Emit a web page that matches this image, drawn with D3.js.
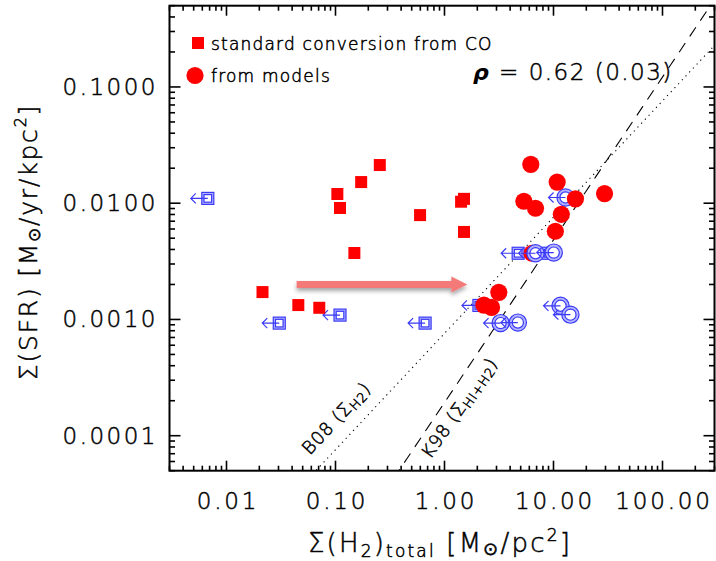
<!DOCTYPE html>
<html>
<head>
<meta charset="utf-8">
<script src="https://cdn.jsdelivr.net/npm/d3@7"></script>
<style>
  body { margin: 0; background: #fff; }
  svg text { font-family: "DejaVu Sans", sans-serif; fill: #000; }
  .lt { font-weight: 200; stroke: #000; stroke-width: 0.5px; }
</style>
</head>
<body>
<div id="chart"></div>
<script>
// ---- data ----
// red squares: standard conversion from CO
const coX = [0.255, 0.172, 0.104, 0.110, 0.597, 0.149, 0.0214, 0.0456, 0.071, 1.51, 1.42, 1.51];
const coY = [0.0213, 0.0152, 0.0120, 0.0091, 0.0079, 0.00373, 0.00172, 0.00133, 0.00126, 0.0109, 0.0103, 0.00566];

// red circles: from models
const modX = [6.19, 10.8, 5.35, 6.84, 15.9, 29.4, 11.8, 10.4, 6.36, 3.15, 2.30, 2.70];
const modY = [0.0216, 0.0152, 0.0104, 0.00905, 0.0109, 0.0121, 0.00803, 0.00574, 0.00371, 0.00171, 0.00133, 0.00127];

// blue open squares, upper limits (CO)
const limCoX = [0.00674, 0.0305, 0.110, 0.664, 4.74, 8.92, 2.07];
const limCoY = [0.0110, 0.00093, 0.00109, 0.00093, 0.00371, 0.00371, 0.00132];

// blue open circles, upper limits (models)
const limModX = [12.9, 6.84, 10.05, 3.27, 4.71, 11.6, 14.3];
const limModY = [0.0112, 0.00371, 0.00376, 0.00093, 0.00094, 0.00131, 0.0011];

// reference relations: log SFR = a + b log(gas)
const b08 = { a: -2.12 - 1.0, b: 1.0 };   // Bigiel 08, normalised at 10 Msun/pc2
const k98 = { a: -3.715, b: 1.4 };        // Kennicutt 98

const xTickLabels = ["0.01", "0.10", "1.00", "10.00", "100.00"];
const yTickLabels = ["0.1000", "0.0100", "0.0010", "0.0001"];
const xMajor = [0.01, 0.1, 1, 10, 100];
const yMajor = [0.1, 0.01, 0.001, 0.0001];

const shiftFrom = [0.044, 0.0020];
const shiftTo = [1.62, 0.0020];

// ---- layout ----
const W = 716, H = 561;
const pL = 169.5, pR = 714.5, pT = 5.7, pB = 470.7;

const svg = d3.select("#chart").append("svg")
    .attr("width", W)
    .attr("height", H);

const defs = svg.append("defs");
const sh = defs.append("filter").attr("id", "shadow")
    .attr("x", "-10%").attr("y", "-100%").attr("width", "120%").attr("height", "300%");
sh.append("feDropShadow").attr("dx", 0).attr("dy", 3).attr("stdDeviation", 2.2)
    .attr("flood-color", "#000").attr("flood-opacity", 0.35);

const x = d3.scaleLog().domain([0.003, 300]).range([pL, pR]);
const y = d3.scaleLog().domain([5e-5, 0.5]).range([pB, pT]);

const clip = defs.append("clipPath").attr("id", "plotclip");
clip.append("rect").attr("x", pL).attr("y", pT)
    .attr("width", pR - pL).attr("height", pB - pT);

// ---- relation lines ----
function relLine(rel) {
    const xs = d3.range(0, 61).map(i => Math.pow(10, -2.6 + i * 5.2 / 60));
    return d3.line()
        .x(d => x(d))
        .y(d => y(Math.pow(10, rel.a + rel.b * Math.log10(d))))(xs);
}
const lines = svg.append("g").attr("clip-path", "url(#plotclip)");
lines.append("path").attr("d", relLine(b08))
    .attr("fill", "none").attr("stroke", "#000").attr("stroke-width", 1.1)
    .attr("stroke-dasharray", "1.2,4.2");
lines.append("path").attr("d", relLine(k98))
    .attr("fill", "none").attr("stroke", "#000").attr("stroke-width", 1.1)
    .attr("stroke-dasharray", "11,8");

// ---- pink shift arrow ----
const ar = svg.append("g").attr("filter", "url(#shadow)");
const ax0 = x(shiftFrom[0]), ax1 = x(shiftTo[0]), ay = y(shiftFrom[1]);
ar.append("path")
    .attr("d", `M${ax0},${ay - 3.5}L${ax1 - 16},${ay - 3.5}L${ax1 - 16},${ay - 8}L${ax1},${ay}L${ax1 - 16},${ay + 8}L${ax1 - 16},${ay + 3.5}L${ax0},${ay + 3.5}Z`)
    .attr("fill", "#f47a7a");

// ---- symbols ----
const blue = "#3a3af8";
const limCo = limCoX.map((v, i) => ({ x: v, y: limCoY[i] }));
const limMod = limModX.map((v, i) => ({ x: v, y: limModY[i] }));

function limArrow(g, d) {
    const cx = x(d.x), cy = y(d.y);
    g.append("path")
        .attr("d", `M${cx},${cy}L${cx - 17},${cy}M${cx - 12},${cy - 5}L${cx - 17},${cy}L${cx - 12},${cy + 5}`)
        .attr("fill", "none").attr("stroke", blue).attr("stroke-width", 1.2);
}
function drawLimSquare(g, d) {
    const cx = x(d.x), cy = y(d.y);
    g.append("rect").attr("x", cx - 6).attr("y", cy - 6).attr("width", 12).attr("height", 12)
        .attr("fill", "#b4b4ff").attr("stroke", blue).attr("stroke-width", 1.2);
    g.append("rect").attr("x", cx - 3.8).attr("y", cy - 3.8).attr("width", 7.6).attr("height", 7.6)
        .attr("fill", "#fff").attr("stroke", blue).attr("stroke-width", 1.2);
    limArrow(g, d);
}
function drawLimCircle(g, d) {
    const cx = x(d.x), cy = y(d.y);
    g.append("circle").attr("cx", cx).attr("cy", cy).attr("r", 8.6)
        .attr("fill", "#b4b4ff").attr("stroke", blue).attr("stroke-width", 1.2);
    g.append("circle").attr("cx", cx).attr("cy", cy).attr("r", 5.6)
        .attr("fill", "#fff").attr("stroke", blue).attr("stroke-width", 1.2);
    limArrow(g, d);
}

const pts = svg.append("g");
limCo.forEach(d => drawLimSquare(pts.append("g"), d));
drawLimCircle(pts.append("g"), limMod[0]);

pts.selectAll(".co")
    .data(coX.map((v, i) => ({ x: v, y: coY[i] })))
    .enter().append("rect")
    .attr("class", "co")
    .attr("x", d => x(d.x) - 6).attr("y", d => y(d.y) - 6)
    .attr("width", 12).attr("height", 12)
    .attr("fill", "#ff0000");

pts.selectAll(".mod")
    .data(modX.map((v, i) => ({ x: v, y: modY[i] })))
    .enter().append("circle")
    .attr("class", "mod")
    .attr("cx", d => x(d.x)).attr("cy", d => y(d.y))
    .attr("r", 8.6)
    .attr("fill", "#ff0000");

limMod.slice(1).forEach(d => drawLimCircle(pts.append("g"), d));

// ---- frame and ticks ----
const xMinor = x.ticks().filter(v => !xMajor.some(m => Math.abs(m - v) / m < 1e-6));
const yMinor = y.ticks().filter(v => !yMajor.some(m => Math.abs(m - v) / m < 1e-6));

const tk = svg.append("g").attr("stroke", "#000").attr("stroke-width", 1.6);
xMinor.forEach(v => {
    tk.append("line").attr("x1", x(v)).attr("x2", x(v)).attr("y1", pB).attr("y2", pB - 5);
    tk.append("line").attr("x1", x(v)).attr("x2", x(v)).attr("y1", pT).attr("y2", pT + 5);
});
xMajor.forEach(v => {
    tk.append("line").attr("x1", x(v)).attr("x2", x(v)).attr("y1", pB).attr("y2", pB - 10);
    tk.append("line").attr("x1", x(v)).attr("x2", x(v)).attr("y1", pT).attr("y2", pT + 10);
});
yMinor.forEach(v => {
    tk.append("line").attr("y1", y(v)).attr("y2", y(v)).attr("x1", pL).attr("x2", pL + 5.5);
    tk.append("line").attr("y1", y(v)).attr("y2", y(v)).attr("x1", pR).attr("x2", pR - 5.5);
});
yMajor.forEach(v => {
    tk.append("line").attr("y1", y(v)).attr("y2", y(v)).attr("x1", pL).attr("x2", pL + 11);
    tk.append("line").attr("y1", y(v)).attr("y2", y(v)).attr("x1", pR).attr("x2", pR - 11);
});

svg.append("rect").attr("x", pL).attr("y", pT)
    .attr("width", pR - pL).attr("height", pB - pT)
    .attr("fill", "none").attr("stroke", "#000").attr("stroke-width", 2);

// tick labels
svg.append("g").selectAll("text")
    .data(xMajor)
    .enter().append("text")
    .attr("class", "lt")
    .attr("x", (d, i) => x(d) + 1.5)
    .attr("y", 509)
    .attr("text-anchor", "middle")
    .attr("font-size", 23)
    .attr("letter-spacing", 2.8)
    .text((d, i) => xTickLabels[i]);

svg.append("g").selectAll("text")
    .data(yMajor)
    .enter().append("text")
    .attr("class", "lt")
    .attr("x", 158)
    .attr("y", d => y(d) + 8)
    .attr("text-anchor", "end")
    .attr("font-size", 23)
    .attr("letter-spacing", 2.5)
    .text((d, i) => yTickLabels[i]);

// axis titles
const xt = svg.append("text")
    .attr("class", "lt")
    .attr("x", 440).attr("y", 552)
    .attr("text-anchor", "middle")
    .attr("font-size", 26)
    .attr("letter-spacing", 2.2);
xt.append("tspan").text("Σ(H");
xt.append("tspan").attr("font-size", 17).attr("dy", 5).text("2");
xt.append("tspan").attr("dy", -5).text(")");
xt.append("tspan").attr("font-size", 17).attr("dy", 5).text("total");
xt.append("tspan").attr("dy", -5).text("   [M");
xt.append("tspan").attr("font-size", 18).attr("dy", 3).text("⊙");
xt.append("tspan").attr("dy", -3).text("/pc");
xt.append("tspan").attr("font-size", 17).attr("dy", -11).text("2");
xt.append("tspan").attr("dy", 11).text("]");

const yt = svg.append("text")
    .attr("class", "lt")
    .attr("transform", "translate(37,242) rotate(-90)")
    .attr("text-anchor", "middle")
    .attr("font-size", 25)
    .attr("letter-spacing", 1.8);
yt.append("tspan").text("Σ(SFR)   [M");
yt.append("tspan").attr("font-size", 17).attr("dy", 3).text("⊙");
yt.append("tspan").attr("dy", -3).text("/yr/kpc");
yt.append("tspan").attr("font-size", 16).attr("dy", -11).text("2");
yt.append("tspan").attr("dy", 11).text("]");

// legend
const lg = svg.append("g");
lg.append("rect").attr("x", 192).attr("y", 37).attr("width", 12).attr("height", 12).attr("fill", "#ff0000");
lg.append("text").attr("class", "lt").attr("x", 211).attr("y", 50).attr("font-size", 17).attr("letter-spacing", 1.2)
    .text("standard conversion from CO");
lg.append("circle").attr("cx", 195).attr("cy", 75.5).attr("r", 8.6).attr("fill", "#ff0000");
lg.append("text").attr("class", "lt").attr("x", 211).attr("y", 81.5).attr("font-size", 17).attr("letter-spacing", 1.2)
    .text("from models");

// correlation
const rho = svg.append("text").attr("x", 473).attr("y", 80).attr("font-size", 22).attr("letter-spacing", 1.5);
rho.append("tspan").attr("font-weight", "bold").attr("font-style", "italic").text("ρ");
rho.append("tspan").attr("class", "lt").attr("font-size", 23).text(" = 0.62 (0.03)");

// relation labels
const lb1 = svg.append("text")
    .attr("class", "lt")
    .attr("transform", `translate(${x(0.112)},${y(1.30e-4)}) rotate(-47)`)
    .attr("text-anchor", "middle")
    .attr("font-size", 18)
    .attr("letter-spacing", 0.8);
lb1.append("tspan").text("B08 (Σ");
lb1.append("tspan").attr("font-size", 13).attr("dy", 3).text("H2");
lb1.append("tspan").attr("dy", -3).text(")");

const lb2 = svg.append("text")
    .attr("class", "lt")
    .attr("transform", `translate(${x(1.52)},${y(1.62e-4)}) rotate(-55)`)
    .attr("text-anchor", "middle")
    .attr("font-size", 18)
    .attr("letter-spacing", 0.8);
lb2.append("tspan").text("K98 (Σ");
lb2.append("tspan").attr("font-size", 13).attr("dy", 3).text("HI+H2");
lb2.append("tspan").attr("dy", -3).text(")");
</script>
</body>
</html>
